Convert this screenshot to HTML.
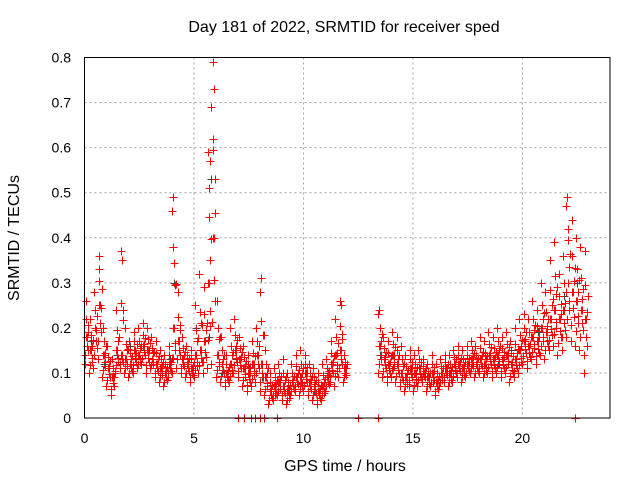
<!DOCTYPE html>
<html><head><meta charset="utf-8"><style>
body{margin:0;background:#fff;}
svg{display:block;font-family:"Liberation Sans",sans-serif;}
</style></head><body>
<svg id="chart" width="640" height="480" viewBox="0 0 640 480">
<rect width="640" height="480" fill="#fff"/>
<text x="344" y="32" font-size="16" text-anchor="middle">Day 181 of 2022, SRMTID for receiver sped</text>
<text x="345" y="471" font-size="16" text-anchor="middle">GPS time / hours</text>
<text transform="translate(19,238) rotate(-90)" font-size="16" text-anchor="middle">SRMTID / TECUs</text>
<g id="grid"></g>
<g id="ticks"></g>
<g id="gray"></g>
<g id="red"></g>
<rect x="84.5" y="57.5" width="525.5" height="360.5" fill="none" stroke="#000" stroke-width="1"/>
</svg>
<script>
const xTicks=[0,5,10,15,20];
const yTicks=[0,0.1,0.2,0.3,0.4,0.5,0.6,0.7,0.8];
const yTickLabels=["0","0.1","0.2","0.3","0.4","0.5","0.6","0.7","0.8"];
const times=[0.0,0.2,0.4,0.6,0.8,1.0,1.2,1.4,1.6,1.8,2.0,2.2,2.4,2.6,2.8,3.0,3.2,3.4,3.6,3.8,4.0,4.2,4.4,4.6,4.8,5.0,5.2,5.4,5.6,5.8,6.0,6.2,6.4,6.6,6.8,7.0,7.2,7.4,7.6,7.8,8.0,8.2,8.4,8.6,8.8,9.0,9.2,9.4,9.6,9.8,10.0,10.2,10.4,10.6,10.8,11.0,11.2,11.4,11.6,11.8,13.4,13.6,13.8,14.0,14.2,14.4,14.6,14.8,15.0,15.2,15.4,15.6,15.8,16.0,16.2,16.4,16.6,16.8,17.0,17.2,17.4,17.6,17.8,18.0,18.2,18.4,18.6,18.8,19.0,19.2,19.4,19.6,19.8,20.0,20.2,20.4,20.6,20.8,21.0,21.2,21.4,21.6,21.8,22.0,22.2,22.4,22.6,22.8];
const lowVals=[.12,.10,.11,.13,.09,.07,.05,.10,.11,.10,.09,.10,.11,.12,.10,.11,.09,.08,.07,.09,.10,.11,.10,.09,.08,.09,.10,.10,.11,.12,.09,.08,.07,.08,.10,.09,.07,.06,.07,.08,.06,.05,.03,.04,.05,.04,.03,.05,.06,.05,.06,.05,.04,.03,.04,.06,.08,.07,.09,.08,.10,.09,.08,.09,.08,.07,.06,.07,.06,.07,.08,.06,.07,.05,.07,.08,.07,.08,.09,.08,.09,.10,.09,.10,.09,.10,.09,.10,.09,.10,.08,.09,.10,.12,.11,.13,.12,.14,.13,.15,.16,.14,.15,.18,.17,.16,.15,.10];
const midVals=[.18,.15,.20,.25,.14,.11,.09,.15,.14,.13,.12,.15,.14,.16,.15,.13,.12,.11,.10,.12,.20,.17,.13,.12,.11,.14,.15,.17,.30,.40,.14,.12,.10,.12,.15,.13,.11,.10,.12,.14,.12,.09,.06,.07,.08,.07,.06,.08,.09,.09,.10,.08,.07,.06,.07,.09,.12,.14,.15,.11,.16,.13,.12,.14,.12,.10,.09,.11,.10,.11,.10,.09,.10,.08,.10,.11,.10,.12,.12,.11,.12,.13,.12,.13,.12,.14,.13,.14,.13,.14,.12,.13,.15,.17,.16,.18,.17,.20,.19,.22,.24,.22,.24,.30,.28,.26,.24,.22];
const highVals=[.26,.22,.28,.36,.20,.16,.13,.24,.37,.20,.17,.19,.20,.21,.20,.18,.17,.15,.14,.16,.49,.28,.18,.16,.15,.25,.32,.29,.59,.79,.26,.18,.14,.20,.22,.18,.16,.14,.17,.20,.31,.15,.10,.11,.12,.13,.10,.12,.14,.15,.14,.12,.11,.10,.12,.13,.17,.22,.26,.14,.24,.18,.17,.19,.18,.16,.14,.15,.14,.15,.13,.12,.14,.12,.13,.14,.14,.15,.16,.15,.16,.17,.16,.18,.17,.19,.18,.20,.18,.19,.17,.20,.22,.23,.22,.26,.24,.30,.28,.35,.39,.32,.36,.49,.44,.40,.38,.37];
const spikeTimes=[4.0,4.05,5.75,5.8,5.85,5.9,5.7,0.65,1.7,8.0,13.4,22.0,22.1,11.7];
const spikeVals=[.46,.38,.57,.69,.62,.73,.51,.33,.35,.28,.23,.47,.42,.25];
const grayTimes=[0.3,0.9,1.5,2.1,2.7,3.3,3.9,4.5,5.1,5.7,6.3,6.9,7.5,8.1,8.7,9.3,9.9,10.5,11.1,13.5,14.1,14.7,15.3,15.9,16.5,17.1,17.7,18.3,18.9,19.5,20.1,20.7,21.3,21.9,22.5,5.8,4.1];
const grayVals=[.17,.12,.14,.16,.15,.11,.13,.12,.20,.18,.10,.13,.11,.09,.05,.07,.08,.06,.10,.14,.11,.09,.10,.08,.11,.12,.13,.14,.12,.15,.17,.19,.22,.27,.30,.53,.30];
const zeroTimes=[7.0,7.3,7.6,7.8,8.0,8.2,8.8,12.5,13.4,22.4];
const zeroVals=[0,0,0,0,0,0,0,0,0,0];

const X0=84.5,X1=610,Y0=418,Y1=57.5,XMAX=24,YMAX=0.8;
const sx=t=>X0+t/XMAX*(X1-X0);
const sy=v=>Y0-v/YMAX*(Y0-Y1);
const NS='http://www.w3.org/2000/svg';
const grid=document.getElementById('grid'),ticks=document.getElementById('ticks');
function mk(tag,parent){const e=document.createElementNS(NS,tag);parent.appendChild(e);return e;}
xTicks.forEach(t=>{
  const x=sx(t);
  if(t>0){const g=mk('line',grid);g.setAttribute('x1',x);g.setAttribute('x2',x);g.setAttribute('y1',Y1);g.setAttribute('y2',Y0);g.setAttribute('stroke','#a0a0a0');g.setAttribute('stroke-dasharray','2,3');
  
  }
  const l=mk('text',ticks);l.setAttribute('x',x);l.setAttribute('y',443);l.setAttribute('font-size','14');l.setAttribute('text-anchor','middle');l.textContent=t;
  
  
});
yTicks.forEach((v,i)=>{
  const y=sy(v);
  if(v>0&&v<0.8){const g=mk('line',grid);g.setAttribute('x1',X0);g.setAttribute('x2',X1);g.setAttribute('y1',y);g.setAttribute('y2',y);g.setAttribute('stroke','#a0a0a0');g.setAttribute('stroke-dasharray','2,3');
  
  }
  const l=mk('text',ticks);l.setAttribute('x',71);l.setAttribute('y',y+5);l.setAttribute('font-size','14');l.setAttribute('text-anchor','end');l.textContent=yTickLabels[i];
  
  
});
function plus(parent,t,v,col){
  const x=Math.round(sx(t))+0.5,y=Math.round(sy(v))+0.5;
  const p=mk('path',parent);
  p.setAttribute('d',`M${x-4},${y}H${x+4}M${x},${y-4}V${y+4}`);
  p.setAttribute('stroke',col);p.setAttribute('fill','none');
  
  
}
const gray=document.getElementById('gray'),red=document.getElementById('red');
grayTimes.forEach((t,i)=>plus(gray,t,grayVals[i],'#404040'));
times.forEach((t,i)=>{
  const lo=lowVals[i],md=midVals[i],hi=highVals[i];
  plus(red,t,lo,'#ff0000');
  plus(red,t+0.1,md,'#ff0000');
  plus(red,t+0.05,hi,'#ff0000');
  plus(red,t+0.15,(lo+md)/2,'#ff0000');
  plus(red,t+0.03,(lo*2+md)/3,'#ff0000');
  plus(red,t+0.08,(md+hi)/2,'#ff0000');
  plus(red,t+0.12,(lo+md*2)/3,'#ff0000');
  plus(red,t+0.18,(md*2+hi)/3,'#ff0000');
  plus(red,t+0.06,md,'#ff0000');
  plus(red,t+0.14,(lo+hi)/2,'#ff0000');
});
spikeTimes.forEach((t,i)=>plus(red,t,spikeVals[i],'#ff0000'));
zeroTimes.forEach((t,i)=>plus(red,t,zeroVals[i],'#ff0000'));
</script>
</body></html>
